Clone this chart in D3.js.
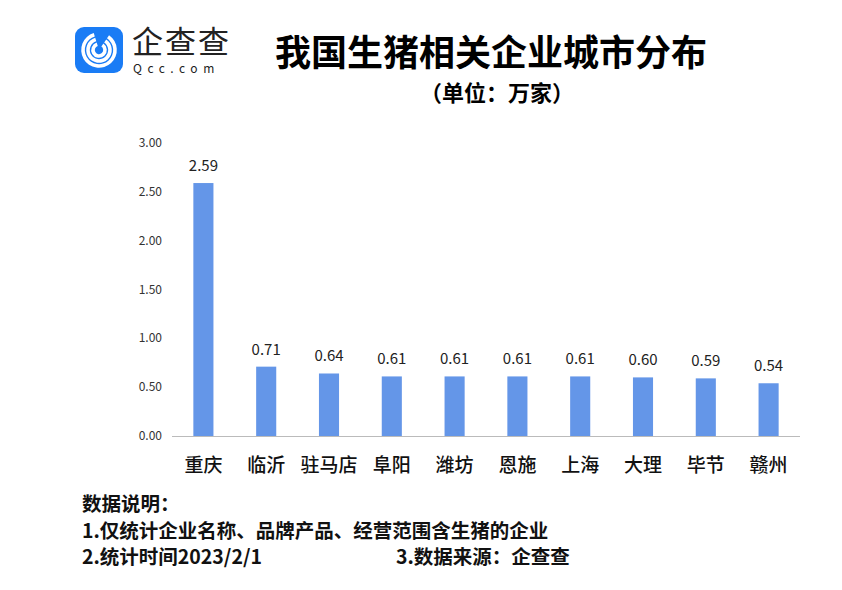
<!DOCTYPE html><html><head><meta charset="utf-8"><script src="https://cdn.jsdelivr.net/npm/d3@7"></script>
<style>body{margin:0;background:#fff}text{font-family:"Noto Sans CJK SC","Noto Sans",sans-serif}</style></head><body>
<svg id="c" width="842" height="590"></svg>
<script>
const categories=["重庆","临沂","驻马店","阜阳","潍坊","恩施","上海","大理","毕节","赣州"];
const values=[2.59,0.71,0.64,0.61,0.61,0.61,0.61,0.60,0.59,0.54];
const yTicks=[0,0.5,1,1.5,2,2.5,3];
const svg=d3.select("#c");
const x=d3.scaleBand().domain(categories).range([172,800]).paddingInner(0.68).paddingOuter(0.34);
const y=d3.scaleLinear().domain([0,3]).range([436,143]);
const lg=svg.append("g");
lg.append("rect").attr("x",75).attr("y",27).attr("width",48).attr("height",46).attr("rx",9).attr("fill","#1a7cf5");
[16,11,6].forEach(r=>lg.append("path").attr("d",d3.arc()({innerRadius:r-1.8,outerRadius:r+1.8,startAngle:0.6,endAngle:2*Math.PI-0.3})).attr("transform","translate(99,50)").attr("fill","#fff"));
lg.append("text").attr("x",132).attr("y",53).attr("font-size",31).attr("letter-spacing",2).attr("fill","#222").text("企查查");
lg.append("text").attr("x",133).attr("y",73).attr("font-size",12).attr("letter-spacing",5.5).attr("fill","#222").text("Qcc.com");
svg.append("text").attr("x",491).attr("y",66).attr("text-anchor","middle").attr("font-size",36).attr("font-weight","bold").text("我国生猪相关企业城市分布");
svg.append("text").attr("x",497).attr("y",101).attr("text-anchor","middle").attr("font-size",22).attr("font-weight","bold").text("（单位：万家）");
svg.append("g").selectAll("text").data(yTicks).join("text").attr("x",162).attr("y",d=>y(d)+4).attr("text-anchor","end").attr("font-size",12).attr("fill","#333").text(d=>d.toFixed(2));
svg.append("line").attr("x1",172).attr("x2",800).attr("y1",436.5).attr("y2",436.5).attr("stroke","#bbb");
svg.append("g").selectAll("rect").data(values).join("rect").attr("x",(d,i)=>x(categories[i])).attr("width",x.bandwidth()).attr("y",d=>y(d)).attr("height",d=>436-y(d)).attr("fill","#6496e8");
svg.append("g").selectAll("text").data(values).join("text").attr("x",(d,i)=>x(categories[i])+x.bandwidth()/2).attr("y",d=>y(d)-12).attr("text-anchor","middle").attr("font-size",15).attr("fill","#222").text(d=>d.toFixed(2));
svg.append("g").selectAll("text").data(categories).join("text").attr("x",d=>x(d)+x.bandwidth()/2).attr("y",472).attr("text-anchor","middle").attr("font-size",19).attr("font-weight","500").attr("fill","#111").text(d=>d);
const notes=[["数据说明：",82,511],["1.仅统计企业名称、品牌产品、经营范围含生猪的企业",82,538],["2.统计时间2023/2/1",82,564],["3.数据来源：企查查",396,564]];
svg.append("g").selectAll("text").data(notes).join("text").attr("x",d=>d[1]).attr("y",d=>d[2]).attr("font-size",19.5).attr("font-weight","bold").attr("fill","#111").text(d=>d[0]);
</script></body></html>
